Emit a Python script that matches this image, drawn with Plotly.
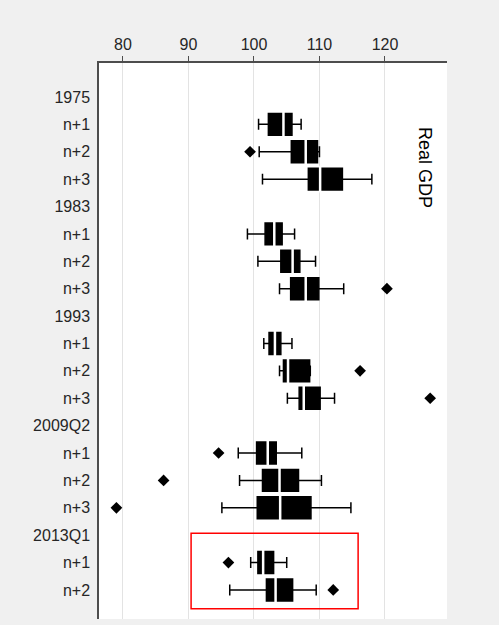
import plotly.graph_objects as go

# Category labels (top to bottom)
labels = ["1975", "n+1", "n+2", "n+3",
          "1983", "n+1", "n+2", "n+3",
          "1993", "n+1", "n+2", "n+3",
          "2009Q2", "n+1", "n+2", "n+3",
          "2013Q1", "n+1", "n+2"]

# Rows (index into labels) that carry a box
box_rows = [1, 2, 3, 5, 6, 7, 9, 10, 11, 13, 14, 15, 17, 18]
lower_fence = [100.7, 100.8, 101.3, 99.0, 100.6, 103.9, 101.5, 103.9, 105.1, 97.6, 97.8, 95.1, 99.5, 96.3]
q1 =          [102.2, 105.7, 108.3, 101.7, 104.1, 105.6, 102.3, 104.5, 106.9, 100.4, 101.3, 100.5, 100.6, 101.9]
median =      [104.5, 107.9, 110.1, 103.1, 105.9, 107.9, 103.2, 105.2, 107.6, 102.1, 103.9, 104.0, 101.4, 103.3]
q3 =          [105.8, 109.7, 113.5, 104.3, 107.0, 109.9, 104.1, 108.5, 110.1, 103.4, 106.8, 108.7, 103.0, 105.9]
upper_fence = [107.2, 110.0, 118.0, 106.2, 109.4, 113.7, 105.8, 108.6, 112.3, 107.3, 110.3, 114.8, 105.0, 109.5]

# Outliers
outlier_rows = [2, 7, 10, 11, 13, 14, 15, 17, 18]
outlier_vals = [99.4, 120.3, 116.2, 126.9, 94.6, 86.2, 79.0, 96.1, 112.1]

x_ticks = [80, 90, 100, 110, 120]

FONT = "Liberation Sans, Arial, sans-serif"

fig = go.Figure()

fig.add_trace(go.Box(
    orientation="h",
    y=box_rows,
    q1=q1, median=median, q3=q3,
    lowerfence=lower_fence, upperfence=upper_fence,
    width=0.8,
    whiskerwidth=0.5,
    fillcolor="black",
    line=dict(color="black", width=1.5),
    boxpoints=False,
    showlegend=False,
    hoverinfo="skip",
))

# White median lines
fig.add_trace(go.Scatter(
    x=median, y=box_rows, mode="markers",
    marker=dict(symbol="line-ns", size=19, line=dict(color="white", width=2.5)),
    showlegend=False, hoverinfo="skip",
))

# Outliers
fig.add_trace(go.Scatter(
    x=outlier_vals, y=outlier_rows, mode="markers",
    marker=dict(symbol="diamond", size=9, color="black"),
    showlegend=False, hoverinfo="skip",
))

# Highlight rectangle around 2013Q1
fig.add_shape(type="rect", xref="x", yref="y",
              x0=90.4, x1=115.9, y0=15.93, y1=18.69,
              line=dict(color="#ff0000", width=1.5), fillcolor="rgba(0,0,0,0)")

fig.add_annotation(text="Real GDP", xref="paper", yref="paper",
                   x=0.937, y=0.813, xanchor="center", yanchor="middle",
                   showarrow=False, textangle=90,
                   font=dict(family=FONT, size=18, color="black"))

fig.update_layout(
    width=499, height=625,
    margin=dict(l=99, r=52, t=63, b=6),
    paper_bgcolor="#f0f0f0",
    plot_bgcolor="white",
    font=dict(family=FONT, size=16, color="#262626"),
    boxmode="overlay",
    xaxis=dict(
        side="top", range=[76.34, 129.47],
        tickvals=x_ticks, ticktext=[str(v) for v in x_ticks],
        ticks="outside", ticklen=5, tickcolor="#4d4d4d", tickwidth=1,
        showgrid=True, gridcolor="#e3e3e3", gridwidth=1,
        showline=True, linecolor="#4d4d4d", linewidth=1.5,
        zeroline=False,
        tickfont=dict(size=16, color="#262626"),
    ),
    yaxis=dict(
        range=[19.06, -1.24],
        tickvals=list(range(len(labels))), ticktext=labels,
        ticks="", showgrid=False, zeroline=False,
        showline=True, linecolor="#4d4d4d", linewidth=1.5,
        ticklabelstandoff=4,
        tickfont=dict(size=16, color="#262626"),
    ),
)

fig.write_html("out.html")
